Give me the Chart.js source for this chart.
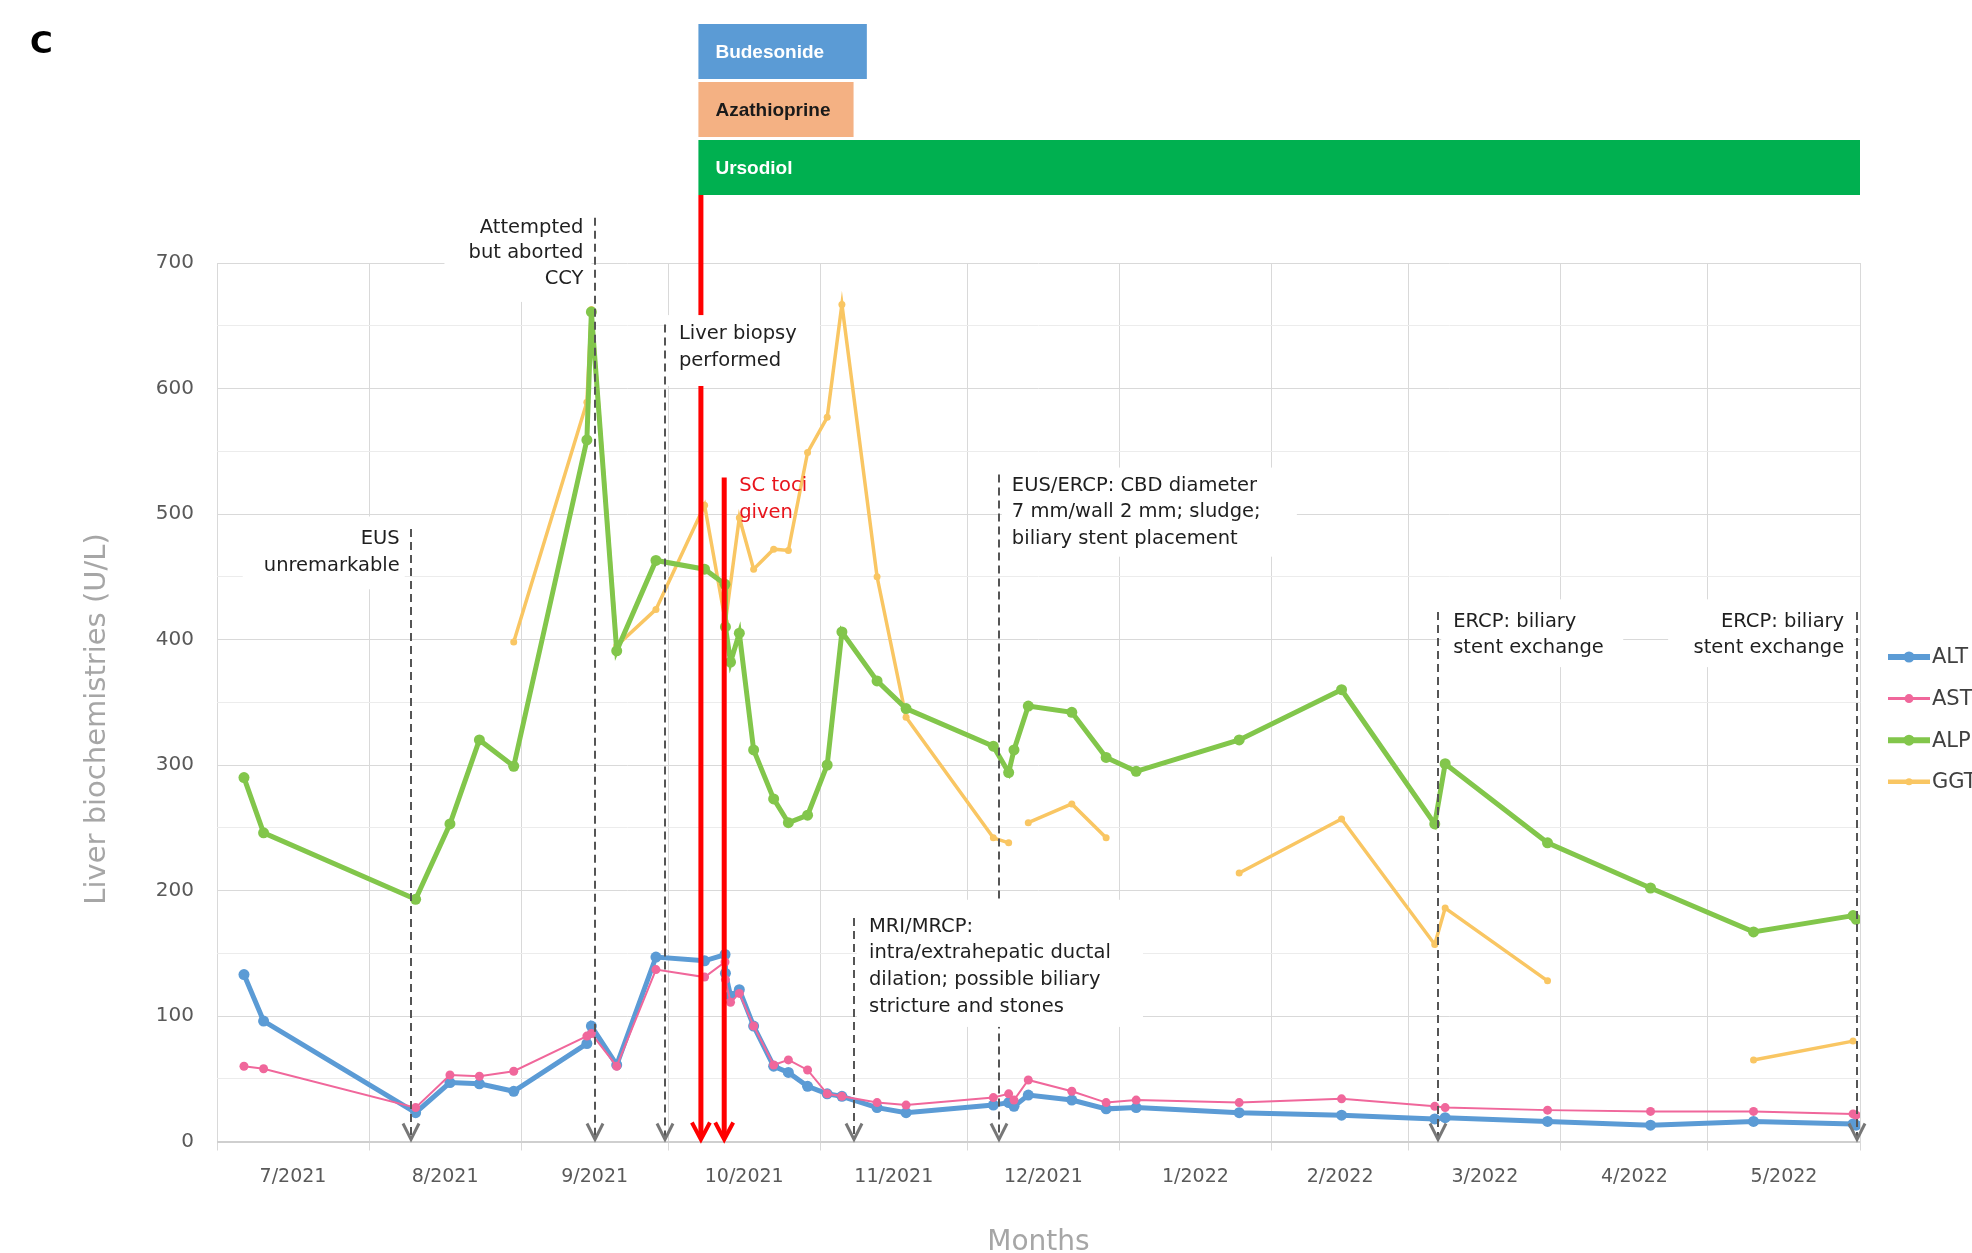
<!DOCTYPE html>
<html>
<head>
<meta charset="utf-8">
<script src="https://cdn.jsdelivr.net/npm/chart.js@4.4.0/dist/chart.umd.min.js"></script>
<style>
  html, body { margin: 0; padding: 0; background: #ffffff; overflow: hidden; }
  #wrap { position: relative; width: 1972px; height: 1253px; }
</style>
</head>
<body>
<div id="wrap"><canvas id="c" width="1972" height="1253"></canvas></div>
<script>
// ---- Liver biochemistry results (U/L) by blood draw ----
const sampleDates = [
  '2021-07-06T12:00', '2021-07-10T12:00', '2021-08-10T12:00', '2021-08-17T12:00', '2021-08-23T12:00',
  '2021-08-30T12:00', '2021-09-14T10:00', '2021-09-15T08:00', '2021-09-20T12:00', '2021-09-28T12:00',
  '2021-10-08T10:00', '2021-10-12T14:00', '2021-10-12T16:00', '2021-10-13T17:00', '2021-10-15T12:00',
  '2021-10-18T10:00', '2021-10-22T12:00', '2021-10-25T12:00', '2021-10-29T10:00', '2021-11-02T10:00',
  '2021-11-05T10:00', '2021-11-12T14:00', '2021-11-18T12:00', '2021-12-06T07:00', '2021-12-09T10:00',
  '2021-12-10T12:00', '2021-12-13T10:00', '2021-12-22T07:00', '2021-12-29T07:00', '2022-01-04T10:00',
  '2022-01-25T10:00', '2022-02-15T07:00', '2022-03-06T07:00', '2022-03-08T10:00', '2022-03-29T07:00',
  '2022-04-19T07:00', '2022-05-10T07:00', '2022-05-30T14:00', '2022-05-31T05:00'
];
const altValues = [133, 96, 23, 47, 46, 40, 78, 92, 61, 147, 144, 149, 134, 116, 121, 92, 60, 55, 44, 38,
  36, 27, 23, 29, 31, 28, 37, 33, 26, 27, 23, 21, 18, 19, 16, 13, 16, 14, 13];
const astValues = [60, 58, 27, 53, 52, 56, 84, 86, 60, 137, 131, 143, 129, 111, 118, 92, 61, 65, 57, 38,
  36, 31, 29, 35, 38, 33, 49, 40, 31, 33, 31, 34, 28, 27, 25, 24, 24, 22, 21];
const alpValues = [290, 246, 193, 253, 320, 299, 559, 661, 391, 463, 456, 444, 410, 382, 405, 312, 273, 254, 260, 300,
  406, 367, 345, 315, 294, 312, 347, 342, 306, 295, 320, 360, 253, 301, 238, 202, 167, 180, 177];

// GGT was not run on every draw; null marks a draw without a GGT result
const ggtDates = [
  '2021-08-30T12:00', '2021-09-14T10:00', '2021-09-15T08:00', '2021-09-20T12:00', '2021-09-28T12:00',
  '2021-10-08T10:00', '2021-10-12T16:00', '2021-10-15T12:00', '2021-10-18T10:00', '2021-10-22T12:00',
  '2021-10-25T12:00', '2021-10-29T10:00', '2021-11-02T10:00', '2021-11-05T10:00', '2021-11-12T14:00',
  '2021-11-18T12:00', '2021-12-06T07:00', '2021-12-09T10:00', '2021-12-10T12:00', '2021-12-13T10:00',
  '2021-12-22T07:00', '2021-12-29T07:00', '2022-01-04T10:00', '2022-01-25T10:00', '2022-02-15T07:00',
  '2022-03-06T07:00', '2022-03-08T10:00', '2022-03-29T07:00', '2022-04-19T07:00', '2022-05-10T07:00',
  '2022-05-30T14:00'
];
const ggtValues = [398, 589, 663, 395, 424, 507, 414, 497, 456, 472, 471, 549, 577, 667, 450, 338,
  242, 238, null, 254, 269, 242, null, 214, 257, 157, 186, 128, null, 65, 80];

// ---- Month axis ----
const monthStarts = ['2021-07-01', '2021-08-01', '2021-09-01', '2021-10-01', '2021-11-01', '2021-12-01',
  '2022-01-01', '2022-02-01', '2022-03-01', '2022-04-01', '2022-05-01', '2022-06-01'];
const monthLabels = ['7/2021', '8/2021', '9/2021', '10/2021', '11/2021', '12/2021',
  '1/2022', '2/2022', '3/2022', '4/2022', '5/2022'];

// ---- Treatments ----
const treatments = ['Budesonide', 'Azathioprine', 'Ursodiol'];
const treatmentStart = ['2021-10-07T16:00', '2021-10-07T16:00', '2021-10-07T16:00'];
const treatmentEnd = ['2021-11-10T12:00', '2021-11-07T19:00', '2022-06-01'];

// ---- Clinical events ----
const eventDates = ['2021-08-09T12:00', '2021-09-16T04:00', '2021-09-30T08:00', '2021-11-07T21:00',
  '2021-12-07T10:00', '2022-03-07T00:00', '2022-05-31T10:00'];
const eventNotes = [
  ['EUS', 'unremarkable'],
  ['Attempted', 'but aborted', 'CCY'],
  ['Liver biopsy', 'performed'],
  ['MRI/MRCP:', 'intra/extrahepatic ductal', 'dilation; possible biliary', 'stricture and stones'],
  ['EUS/ERCP: CBD diameter', '7 mm/wall 2 mm; sludge;', 'biliary stent placement'],
  ['ERCP: biliary', 'stent exchange'],
  ['ERCP: biliary', 'stent exchange']
];
const tociDate = '2021-10-12T10:00';
const tociNote = ['SC toci', 'given'];

// ---- Placement of event notes (from = top of marker in U/L, box = [dx0, dx1, top, bottom]) ----
const noteLayout = [
  { from: 488, side: 'left', gap: 11, first: 480, step: 27, box: [-168, -6, 498, 440] },
  { from: 736, side: 'left', gap: 12, first: 728, step: 25.5, box: [-151, -4, 747, 669] },
  { from: 651, side: 'right', gap: 14, first: 643.6, step: 26.7, box: [2, 155, 658.5, 602] },
  { from: 178, side: 'right', gap: 15, first: 171.3, step: 26.7, box: [3, 289, 192.6, 91.3] },
  { from: 531.5, side: 'right', gap: 13, first: 522.7, step: 26.7, box: [3, 298, 537, 466] },
  { from: 422, side: 'right', gap: 15, first: 414.3, step: 26, box: [3, 185, 432, 378] },
  { from: 422, side: 'left', gap: 13, first: 414.3, step: 26, box: [-189, -3, 432, 378] }
];
const tociLayout = { from: 529, gap: 15, first: 522.7, step: 27 };

const colors = { ALT: '#5b9bd5', AST: '#f0679b', ALP: '#82c64b', GGT: '#f9c663' };
const barColors = ['#5b9bd5', '#f4b183', '#00b050'];
const barTextColors = ['#ffffff', '#1a1a1a', '#ffffff'];
const FONT = '"DejaVu Sans", sans-serif';

const ORIGIN = Date.UTC(2021, 6, 1);
function dayOf(s) {
  const iso = s.length === 10 ? s + 'T00:00:00Z' : s + ':00Z';
  return (Date.parse(iso) - ORIGIN) / 86400000;
}

const boundaries = monthStarts.map(dayOf);
const mids = monthLabels.map((_, i) => (boundaries[i] + boundaries[i + 1]) / 2);
const midLabel = new Map(mids.map((m, i) => [m, monthLabels[i]]));
const isBoundary = v => boundaries.includes(v);
const tickValues = [...boundaries, ...mids].sort((a, b) => a - b);

const pts = (dates, vals) => dates.map((d, i) => ({ x: dayOf(d), y: vals[i] }));

function chevron(ctx, cx, tip, w, h, color, lw) {
  ctx.strokeStyle = color;
  ctx.lineWidth = lw;
  ctx.lineJoin = 'miter';
  ctx.beginPath();
  ctx.moveTo(cx - w, tip - h);
  ctx.lineTo(cx, tip);
  ctx.lineTo(cx + w, tip - h);
  ctx.stroke();
}

const overlay = {
  id: 'overlay',
  afterDatasetsDraw(chart) {
    const { ctx, scales: { x, y } } = chart;
    const px = d => x.getPixelForValue(dayOf(d));
    const tip = y.getPixelForValue(0) - 2;
    const barTop = 24, barH = 55, barGap = 3;
    const barBottom = barTop + treatments.length * barH + (treatments.length - 1) * barGap;
    ctx.save();

    // gray dashed event markers with arrowheads
    eventDates.forEach((d, i) => {
      const L = noteLayout[i];
      const cx = Math.round(px(d));
      ctx.strokeStyle = '#555555';
      ctx.lineWidth = 2;
      ctx.setLineDash([8, 5]);
      ctx.beginPath();
      ctx.moveTo(cx, y.getPixelForValue(L.from));
      ctx.lineTo(cx, tip - 3);
      ctx.stroke();
      ctx.setLineDash([]);
      chevron(ctx, cx, tip, 8, 16, '#777777', 3);
    });

    // red markers: treatment start and SC tocilizumab
    const r1 = px(treatmentStart[0]);
    const r2 = px(tociDate);
    ctx.strokeStyle = '#ff0000';
    ctx.lineWidth = 5;
    ctx.beginPath();
    ctx.moveTo(r1, barBottom); ctx.lineTo(r1, tip - 4);
    ctx.moveTo(r2, y.getPixelForValue(tociLayout.from)); ctx.lineTo(r2, tip - 4);
    ctx.stroke();
    chevron(ctx, r1, tip, 9, 17, '#ff0000', 4);
    chevron(ctx, r2, tip, 9, 17, '#ff0000', 4);

    // white note backgrounds
    ctx.fillStyle = '#ffffff';
    eventDates.forEach((d, i) => {
      const [dx0, dx1, vt, vb] = noteLayout[i].box;
      const cx = px(d);
      const yt = y.getPixelForValue(vt), yb = y.getPixelForValue(vb);
      ctx.fillRect(cx + dx0, yt, dx1 - dx0, yb - yt);
    });

    // note texts
    ctx.font = '19.5px ' + FONT;
    ctx.textBaseline = 'middle';
    ctx.fillStyle = '#1f1f1f';
    eventDates.forEach((d, i) => {
      const L = noteLayout[i];
      const cx = px(d);
      ctx.textAlign = L.side === 'left' ? 'right' : 'left';
      const tx = L.side === 'left' ? cx - L.gap : cx + L.gap;
      const y0 = y.getPixelForValue(L.first);
      eventNotes[i].forEach((line, k) => ctx.fillText(line, tx, y0 + k * L.step));
    });
    ctx.fillStyle = '#e8141c';
    ctx.textAlign = 'left';
    tociNote.forEach((line, k) =>
      ctx.fillText(line, r2 + tociLayout.gap, y.getPixelForValue(tociLayout.first) + k * tociLayout.step));

    // treatment bars
    treatments.forEach((name, i) => {
      const x0 = px(treatmentStart[i]) - 2.5;
      const x1 = px(treatmentEnd[i]);
      const top = barTop + i * (barH + barGap);
      ctx.fillStyle = barColors[i];
      ctx.fillRect(x0, top, x1 - x0, barH);
      ctx.fillStyle = barTextColors[i];
      ctx.font = 'bold 19px "Liberation Sans", sans-serif';
      ctx.textAlign = 'left';
      ctx.textBaseline = 'middle';
      ctx.fillText(name, x0 + 17, top + barH / 2 + 1);
    });

    // legend
    chart.data.datasets.forEach((ds, i) => {
      const ly = 657 + i * 41.6;
      ctx.strokeStyle = ds.borderColor;
      ctx.lineWidth = ds.borderWidth + 1;
      ctx.beginPath();
      ctx.moveTo(1888, ly); ctx.lineTo(1930, ly);
      ctx.stroke();
      ctx.fillStyle = ds.borderColor;
      ctx.beginPath();
      ctx.arc(1909, ly, ds.pointRadius, 0, Math.PI * 2);
      ctx.fill();
      ctx.fillStyle = '#404040';
      ctx.font = '21px ' + FONT;
      ctx.textAlign = 'left';
      ctx.fillText(ds.label, 1932, ly + 1);
    });

    // panel letter
    ctx.fillStyle = '#000000';
    ctx.font = 'bold 31px ' + FONT;
    ctx.textAlign = 'left';
    ctx.textBaseline = 'alphabetic';
    ctx.fillText('C', 30, 53);

    // y-axis title
    ctx.save();
    ctx.translate(97, 719);
    ctx.rotate(-Math.PI / 2);
    ctx.fillStyle = '#a6a6a6';
    ctx.font = '29px ' + FONT;
    ctx.textAlign = 'center';
    ctx.textBaseline = 'middle';
    ctx.fillText('Liver biochemistries (U/L)', 0, 0);
    ctx.restore();

    ctx.restore();
  }
};

new Chart(document.getElementById('c'), {
  type: 'line',
  data: {
    datasets: [
      { label: 'ALT', data: pts(sampleDates, altValues), borderColor: colors.ALT, backgroundColor: colors.ALT,
        borderWidth: 5, pointRadius: 5.5, pointBorderWidth: 0, order: 1 },
      { label: 'AST', data: pts(sampleDates, astValues), borderColor: colors.AST, backgroundColor: colors.AST,
        borderWidth: 2, pointRadius: 4.5, pointBorderWidth: 0, order: 0 },
      { label: 'ALP', data: pts(sampleDates, alpValues), borderColor: colors.ALP, backgroundColor: colors.ALP,
        borderWidth: 5, pointRadius: 5.5, pointBorderWidth: 0, order: 2 },
      { label: 'GGT', data: pts(ggtDates, ggtValues), borderColor: colors.GGT, backgroundColor: colors.GGT,
        borderWidth: 3.5, pointRadius: 3.5, pointBorderWidth: 0, order: 3 }
    ]
  },
  options: {
    responsive: false,
    animation: false,
    devicePixelRatio: 1,
    events: [],
    layout: { padding: { left: 0, top: 263, right: 112, bottom: 0 } },
    plugins: { legend: { display: false }, tooltip: { enabled: false } },
    elements: { line: { tension: 0 } },
    scales: {
      x: {
        type: 'linear',
        min: boundaries[0],
        max: boundaries[boundaries.length - 1],
        afterBuildTicks: s => { s.ticks = tickValues.map(v => ({ value: v })); },
        afterFit: s => { s.height = 111.5; },
        border: { display: false },
        grid: {
          drawTicks: true,
          tickLength: 9,
          lineWidth: 1,
          color: c => (c.tick && isBoundary(c.tick.value)) ? '#d9d9d9' : 'rgba(0,0,0,0)',
          tickColor: c => (c.tick && isBoundary(c.tick.value)) ? '#d9d9d9' : 'rgba(0,0,0,0)'
        },
        ticks: {
          autoSkip: false, maxRotation: 0, minRotation: 0, padding: 15,
          color: '#595959', font: { family: FONT, size: 19 },
          callback: v => midLabel.get(v) || ''
        },
        title: {
          display: true, text: 'Months', color: '#a6a6a6',
          font: { family: FONT, size: 28, lineHeight: 0.75 }, padding: { top: 0, bottom: 0 }
        }
      },
      y: {
        min: 0, max: 700,
        afterFit: s => { s.width = 217; },
        border: { display: false },
        grid: {
          drawTicks: false,
          color: c => c.tick.value === 0 ? '#cfcfcf' : (c.tick.value % 100 === 0 ? '#d9d9d9' : '#ececec'),
          lineWidth: c => c.tick.value === 0 ? 2 : 1
        },
        ticks: {
          stepSize: 50, padding: 23, color: '#595959', font: { family: FONT, size: 20 },
          callback: v => v % 100 === 0 ? v : ''
        }
      }
    }
  },
  plugins: [overlay]
});
</script>
</body>
</html>
